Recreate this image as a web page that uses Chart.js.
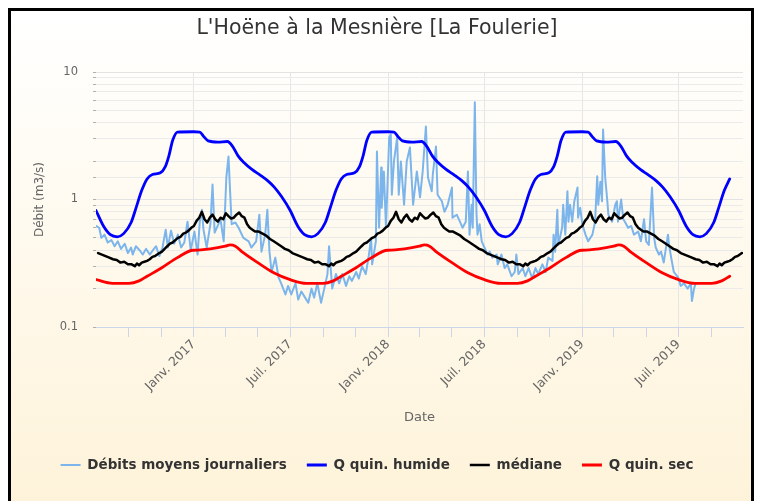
<!DOCTYPE html>
<html>
<head>
<meta charset="utf-8">
<script src="https://cdn.jsdelivr.net/npm/chart.js@4.4.1/dist/chart.umd.min.js"></script>
<style>
  html, body { margin: 0; padding: 0; background: #fff; }
  #frame {
    position: absolute; left: 8px; top: 8px;
    width: 740px; height: 500px;
    border: 3px solid #000;
    background: linear-gradient(to bottom, #ffffff 0%, #fef3d9 100%);
  }
  canvas { display: block; }
</style>
</head>
<body>
<div id="frame"><canvas id="chart" width="740" height="490"></canvas></div>
<script>
// débits journaliers : jour depuis dailyStart / valeur (m3/s)
const dailyStart = '2016-07-01';
const dailyDay = [
  0, 6, 10, 16, 22, 29, 35, 41, 47, 54, 60, 66, 69, 75, 82, 88, 94, 101, 107, 113,
  119, 125, 131, 135, 141, 147, 154, 160, 166, 172, 178, 185, 191, 195, 199, 202, 208, 215, 219, 223,
  227, 234, 240, 245, 249, 253, 255, 262, 268, 277, 287, 292, 301, 307, 311, 318, 322, 326, 330, 337,
  343, 348, 356, 361, 367, 375, 380, 386, 393, 399, 405, 410, 416, 423, 429, 435, 438, 444, 451, 457,
  463, 470, 476, 481, 489, 494, 500, 507, 513, 517, 519, 526, 528, 532, 536, 537, 541, 545, 551, 554,
  556, 560, 566, 569, 573, 579, 584, 590, 596, 603, 609, 614, 620, 624, 631, 633, 639, 642, 650, 655,
  661, 669, 670, 678, 684, 689, 695, 699, 702, 706, 708, 712, 715, 717, 721, 725, 730, 736, 740, 745,
  753, 755, 762, 768, 773, 781, 787, 790, 794, 802, 807, 813, 820, 826, 831, 839, 845, 850, 858, 860,
  863, 867, 869, 876, 878, 882, 886, 888, 891, 895, 899, 905, 906, 910, 914, 920, 925, 933, 938, 942,
  944, 948, 951, 953, 957, 961, 963, 970, 976, 979, 981, 987, 991, 994, 1000, 1006, 1011, 1019, 1024, 1030,
  1034, 1039, 1045, 1049, 1052, 1058, 1062, 1067, 1075, 1077, 1081, 1086, 1094, 1099, 1105, 1112, 1118, 1120, 1124, 1127
];
const dailyFlow = [
  0.62, 0.60, 0.50, 0.53, 0.46, 0.48, 0.43, 0.47, 0.41, 0.45, 0.38, 0.42, 0.37, 0.43, 0.40, 0.37, 0.41, 0.37, 0.40, 0.43,
  0.36, 0.42, 0.58, 0.42, 0.57, 0.45, 0.53, 0.42, 0.46, 0.67, 0.40, 0.56, 0.37, 0.67, 0.83, 0.58, 0.42, 0.64, 1.31, 0.55,
  0.60, 0.70, 0.47, 1.49, 2.17, 0.95, 0.64, 0.66, 0.60, 0.50, 0.47, 0.42, 0.47, 0.76, 0.39, 0.53, 0.83, 0.39, 0.27, 0.35,
  0.245, 0.22, 0.18, 0.21, 0.18, 0.22, 0.164, 0.19, 0.17, 0.155, 0.20, 0.17, 0.22, 0.155, 0.20, 0.26, 0.43, 0.20, 0.26, 0.22,
  0.26, 0.21, 0.25, 0.23, 0.27, 0.24, 0.30, 0.26, 0.37, 0.50, 0.31, 0.47, 2.38, 0.60, 1.78, 0.86, 1.66, 0.60, 3.06, 3.23,
  1.09, 1.99, 3.06, 1.09, 1.99, 0.91, 1.99, 2.56, 0.91, 1.66, 1.04, 1.66, 3.73, 1.49, 1.16, 1.57, 2.6, 1.09, 0.97, 0.80,
  0.91, 1.24, 0.72, 0.76, 0.67, 0.60, 0.67, 1.66, 0.53, 0.91, 0.60, 5.8, 0.80, 0.53, 0.64, 0.47, 0.42, 0.37, 0.39, 0.35,
  0.37, 0.31, 0.37, 0.29, 0.31, 0.25, 0.27, 0.37, 0.26, 0.29, 0.25, 0.29, 0.24, 0.29, 0.26, 0.31, 0.27, 0.35, 0.33, 0.53,
  0.39, 0.83, 0.44, 0.60, 0.91, 0.53, 1.16, 0.67, 0.91, 0.67, 0.97, 1.24, 0.72, 0.86, 0.64, 0.53, 0.47, 0.53, 0.67, 1.52,
  0.91, 1.38, 0.97, 3.54, 1.49, 0.97, 0.76, 0.67, 0.91, 0.97, 0.67, 1.0, 0.70, 0.67, 0.60, 0.62, 0.53, 0.56, 0.47, 0.70,
  0.47, 0.44, 1.24, 0.50, 0.42, 0.37, 0.39, 0.32, 0.53, 0.44, 0.35, 0.27, 0.245, 0.21, 0.22, 0.20, 0.22, 0.16, 0.20, 0.22
];

// profils annuels (jour-mois), répétés chaque année
const humideDays = ['01-01', '01-12', '01-20', '01-28', '02-15', '03-05', '03-15', '03-25', '04-05', '04-20',
  '05-05', '05-20', '06-01', '06-15', '07-01', '07-15', '07-28', '08-10', '08-22', '09-05',
  '09-15', '09-25', '10-05', '10-15', '10-30', '11-08', '11-15', '11-22', '12-01', '12-31'];
const humide = [3.4, 3.38, 3.1, 2.88, 2.82, 2.85, 2.6, 2.2, 1.95, 1.72,
  1.56, 1.4, 1.25, 1.05, 0.82, 0.62, 0.53, 0.51, 0.54, 0.66,
  0.88, 1.18, 1.45, 1.57, 1.62, 1.8, 2.2, 2.9, 3.38, 3.4];

const secDays = ['01-01', '02-01', '03-01', '03-10', '03-20', '04-01', '05-01', '06-01', '07-01', '08-01',
  '09-01', '09-20', '10-05', '11-01', '12-01', '12-31'];
const sec = [0.40, 0.41, 0.43, 0.44, 0.43, 0.39, 0.32, 0.265, 0.235, 0.22,
  0.22, 0.23, 0.25, 0.29, 0.35, 0.40];

const medianeDays = ['01-01', '01-06', '01-11', '01-16', '01-21', '01-26', '01-31', '02-05', '02-10', '02-15',
  '02-20', '02-25', '03-02', '03-07', '03-12', '03-17', '03-22', '03-27', '04-01', '04-06',
  '04-11', '04-16', '04-21', '04-26', '05-03', '05-10', '05-17', '05-24', '05-31', '06-07',
  '06-14', '06-21', '06-28', '07-05', '07-12', '07-19', '07-26', '08-02', '08-09', '08-16',
  '08-23', '08-30', '09-06', '09-12', '09-16', '09-20', '09-25', '09-30', '10-05', '10-10',
  '10-15', '10-20', '10-24', '10-28', '11-02', '11-07', '11-12', '11-17', '11-22', '11-27',
  '12-02', '12-07', '12-12', '12-17', '12-22', '12-27'];
const mediane = [0.62, 0.68, 0.72, 0.80, 0.70, 0.66, 0.72, 0.76, 0.70, 0.67,
  0.72, 0.70, 0.78, 0.74, 0.71, 0.72, 0.76, 0.79, 0.74, 0.72,
  0.64, 0.60, 0.58, 0.56, 0.56, 0.54, 0.52, 0.49, 0.47, 0.45,
  0.43, 0.41, 0.40, 0.38, 0.37, 0.36, 0.35, 0.34, 0.335, 0.32,
  0.325, 0.31, 0.31, 0.30, 0.315, 0.305, 0.32, 0.325, 0.33, 0.34,
  0.355, 0.36, 0.37, 0.38, 0.39, 0.41, 0.43, 0.45, 0.46, 0.48,
  0.50, 0.51, 0.54, 0.55, 0.57, 0.60];

const seasonEnd = '2019-10-06';
const medianeEnd = '2019-10-30';

const xTickDates = ['2016-09-01', '2016-11-01', '2017-01-01', '2017-03-01', '2017-05-01', '2017-07-01',
  '2017-09-01', '2017-11-01', '2018-01-01', '2018-03-01', '2018-05-01', '2018-07-01',
  '2018-09-01', '2018-11-01', '2019-01-01', '2019-03-01', '2019-05-01', '2019-07-01', '2019-09-01'];
const xTickLabels = ['', '', 'Janv. 2017', '', '', 'Juil. 2017',
  '', '', 'Janv. 2018', '', '', 'Juil. 2018',
  '', '', 'Janv. 2019', '', '', 'Juil. 2019', ''];
const yLabelValues = [0.1, 1, 10];
const yLabelText = ['0.1', '1', '10'];

const DAY = 86400000;
const t = s => Date.parse(s + 'T00:00:00Z');
const FONT = 'DejaVu Sans';

const dailyData = dailyDay.map((d, i) => ({ x: t(dailyStart) + d * DAY, y: dailyFlow[i] }));

function yearly(days, vals, endDate) {
  const out = [];
  const lo = t(dailyStart), hi = t(endDate);
  for (let yr = 2016; yr <= 2019; yr++) {
    days.forEach((md, i) => {
      const x = t(yr + '-' + md);
      if (x >= lo && x <= hi) out.push({ x, y: vals[i] });
    });
  }
  return out;
}

function yLabel(v) {
  const k = yLabelValues.findIndex(w => Math.abs(w - v) < 1e-9);
  return k >= 0 ? yLabelText[k] : '';
}

new Chart(document.getElementById('chart'), {
  type: 'line',
  data: {
    datasets: [
      { label: 'Débits moyens journaliers', data: dailyData, borderColor: '#7cb5ec', backgroundColor: '#7cb5ec', borderWidth: 2, order: 4 },
      { label: 'Q quin. humide', data: yearly(humideDays, humide, seasonEnd), borderColor: '#0000ff', backgroundColor: '#0000ff', borderWidth: 2.8, cubicInterpolationMode: 'monotone', order: 3 },
      { label: 'médiane', data: yearly(medianeDays, mediane, medianeEnd), borderColor: '#000000', backgroundColor: '#000000', borderWidth: 2.5, order: 2 },
      { label: 'Q quin. sec', data: yearly(secDays, sec, seasonEnd), borderColor: '#ff0000', backgroundColor: '#ff0000', borderWidth: 2.8, cubicInterpolationMode: 'monotone', order: 1 },
    ],
  },
  options: {
    responsive: false,
    animation: false,
    devicePixelRatio: 1,
    elements: {
      point: { radius: 0, hoverRadius: 0 },
      line: { tension: 0, borderJoinStyle: 'round', borderCapStyle: 'round' },
    },
    layout: { padding: { left: 0, right: 8, top: 0, bottom: 19.25 } },
    scales: {
      x: {
        type: 'linear',
        min: t('2016-07-01'),
        max: t('2019-10-30'),
        afterBuildTicks: s => { s.ticks = xTickDates.map(d => ({ value: t(d) })); },
        afterFit: s => { s.height = 111.25; },
        ticks: {
          autoSkip: false, minRotation: 45, maxRotation: 45, padding: 0,
          color: '#666', font: { family: FONT, size: 12.5 },
          callback: (v, i) => xTickLabels[i],
        },
        grid: {
          color: c => (xTickLabels[c.index] ? '#e6e6e6' : 'rgba(0,0,0,0)'),
          tickColor: '#ccd6eb', tickLength: 10, lineWidth: 1,
        },
        border: { color: '#ccd6eb', width: 1 },
        title: { display: true, text: 'Date', color: '#666', font: { family: FONT, size: 13 }, padding: { top: 0, bottom: 12.45 } },
      },
      y: {
        type: 'logarithmic',
        min: 0.1,
        max: 10,
        afterFit: s => { s.width = 85; },
        ticks: {
          autoSkip: false, padding: 15,
          color: '#666', font: { family: FONT, size: 11.5 },
          callback: v => yLabel(v),
        },
        grid: {
          color: c => (c.tick && yLabel(c.tick.value) ? '#e3e3e3' : '#ebebeb'),
          tickColor: '#b0b0b0', tickLength: 3,
        },
        border: { display: false },
        title: { display: true, text: 'Débit (m3/s)', color: '#666', font: { family: FONT, size: 12 }, padding: { top: 22, bottom: 0 } },
      },
    },
    plugins: {
      title: {
        display: true,
        text: "L'Hoëne à la Mesnière [La Foulerie]",
        color: '#333',
        font: { family: FONT, size: 20.5, weight: 'normal' },
        padding: { top: 5, bottom: 31.4 },
      },
      legend: {
        position: 'bottom',
        labels: {
          usePointStyle: true, pointStyle: 'line', pointStyleWidth: 20, boxHeight: 13.5,
          padding: 20, color: '#333',
          font: { family: FONT, size: 13.5, weight: 'bold' },
          sort: (a, b) => a.datasetIndex - b.datasetIndex,
        },
      },
      tooltip: { enabled: false },
    },
  },
});
</script>
</body>
</html>
